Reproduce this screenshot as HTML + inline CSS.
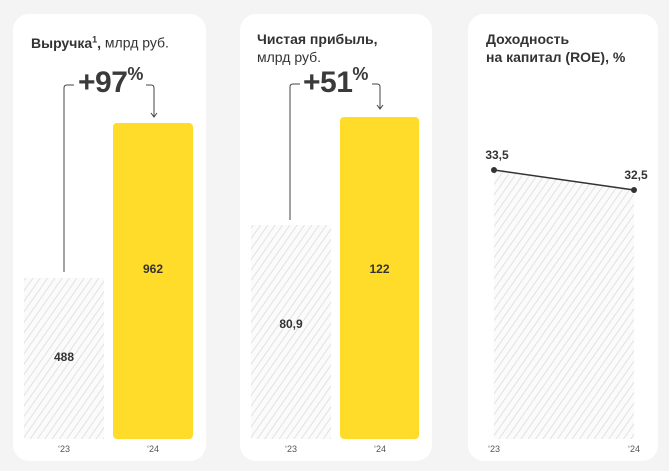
<!DOCTYPE html>
<html><head><meta charset="utf-8"><style>
body{margin:0;width:669px;height:471px;background:#f4f4f4;font-family:"Liberation Sans",sans-serif;position:relative;overflow:hidden;color:#333}
.card{position:absolute;top:14px;height:447px;background:#fff;border-radius:16px}
.t{position:absolute;font-size:14px;line-height:18px;color:#333}
.t b{font-weight:bold}
.big{position:absolute;font-size:30px;font-weight:bold;color:#3a3a3a;letter-spacing:-0.5px}
.big sup{font-size:18px;vertical-align:top;position:relative;top:-2px}
.lab{position:absolute;font-size:12px;font-weight:bold;color:#333;text-align:center}
.yr{position:absolute;font-size:9px;color:#555;text-align:center;width:80px}
</style></head><body>
<svg width="0" height="0" style="position:absolute"><defs>
<pattern id="h" width="6" height="6" patternUnits="userSpaceOnUse" patternTransform="rotate(35)"><rect width="6" height="6" fill="#fbfbfb"/><line x1="0" y1="0" x2="0" y2="6" stroke="#e2e2e2" stroke-width="2"/></pattern></defs></svg>
<div class="card" style="left:13px;width:193px"></div>
<div class="card" style="left:240px;width:192px"></div>
<div class="card" style="left:468px;width:190px"></div>
<svg width="669" height="471" style="position:absolute;left:0;top:0">
<rect x="24" y="278" width="80" height="161" fill="url(#h)"/>
<rect x="113" y="123" width="80" height="316" rx="4" fill="#ffdb2a"/>
<rect x="251" y="225" width="80" height="214" fill="url(#h)"/>
<rect x="340" y="117" width="79" height="322" rx="4" fill="#ffdb2a"/>
<polygon points="494,170 634,190 634,439 494,439" fill="url(#h)"/>
<line x1="494" y1="170" x2="634" y2="190" stroke="#333" stroke-width="1.5"/>
<circle cx="494" cy="170" r="3" fill="#333"/><circle cx="634" cy="190" r="3" fill="#333"/>
<g fill="none" stroke="#444" stroke-width="1">
<path d="M64,272 V88 Q64,85 67,85 H74"/><path d="M146,85 H151 Q154,85 154,88 V116"/><path d="M151,113 L154,117 L157,113"/>
<path d="M290,220 V87 Q290,84 293,84 H300"/><path d="M372,84 H377 Q380,84 380,87 V108"/><path d="M377,105 L380,109 L383,105"/>
</g></svg>
<div class="t" style="left:31px;top:30px"><b>Выручка<sup style="font-size:9px">1</sup>,</b> млрд руб.</div>
<div class="t" style="left:257px;top:30px"><b>Чистая прибыль,</b><br>млрд руб.</div>
<div class="t" style="left:486px;top:30px;font-weight:bold">Доходность<br>на капитал (ROE), %</div>
<div class="big" style="left:78px;top:66px">+97<sup>%</sup></div>
<div class="big" style="left:303px;top:66px">+51<sup>%</sup></div>
<div class="lab" style="left:24px;width:80px;top:350px">488</div>
<div class="lab" style="left:113px;width:80px;top:262px">962</div>
<div class="lab" style="left:251px;width:80px;top:317px">80,9</div>
<div class="lab" style="left:340px;width:79px;top:262px">122</div>
<div class="lab" style="left:477px;width:40px;top:148px">33,5</div>
<div class="lab" style="left:616px;width:40px;top:168px">32,5</div>
<div class="yr" style="left:24px;top:444px">‘23</div>
<div class="yr" style="left:113px;top:444px">‘24</div>
<div class="yr" style="left:251px;top:444px">‘23</div>
<div class="yr" style="left:340px;top:444px">‘24</div>
<div class="yr" style="left:454px;top:444px">‘23</div>
<div class="yr" style="left:594px;top:444px">‘24</div>
</body></html>
